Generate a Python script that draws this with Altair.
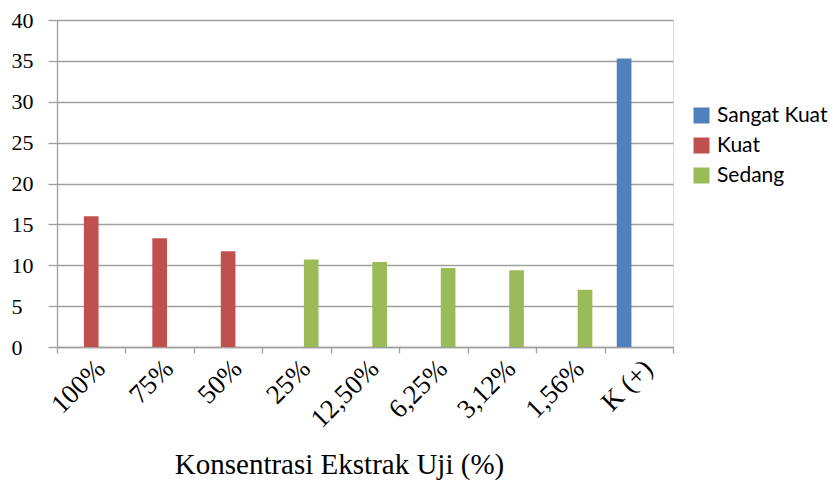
import altair as alt
import pandas as pd

categories = ["100%", "75%", "50%", "25%", "12,50%", "6,25%", "3,12%", "1,56%", "K (+)"]
groups = ["Kuat", "Kuat", "Kuat", "Sedang", "Sedang", "Sedang", "Sedang", "Sedang", "Sangat Kuat"]
values = [16.0, 13.3, 11.7, 10.7, 10.4, 9.65, 9.4, 7.0, 35.3]
legend_order = ["Sangat Kuat", "Kuat", "Sedang"]
colors = ["#4F81BD", "#C0504D", "#9BBB59"]

df = pd.DataFrame({"Konsentrasi": categories, "Kategori": groups, "Nilai": values})

chart = alt.Chart(df).mark_bar().encode(
    x=alt.X("Konsentrasi:N", sort=categories,
            scale=alt.Scale(paddingInner=0, paddingOuter=0),
            axis=alt.Axis(title="Konsentrasi Ekstrak Uji (%)", labelAngle=-45,
                          labelFont="Liberation Serif", labelFontSize=27, labelColor="#000000",
                          labelPadding=2, tickBand="extent", tickSize=6, tickColor="#A0A0A0",
                          tickWidth=1.3, domainColor="#A0A0A0", domainWidth=1.3, grid=False,
                          titleFont="Liberation Serif", titleFontSize=29, titleFontWeight="normal",
                          titleColor="#000000", titleX=282, titleY=126, titleAlign="center",
                          titleBaseline="alphabetic")),
    xOffset=alt.XOffset("Kategori:N", sort=legend_order,
                        scale=alt.Scale(domain=legend_order, paddingInner=0, paddingOuter=0.833)),
    y=alt.Y("Nilai:Q", scale=alt.Scale(domain=[0, 40], nice=False),
            axis=alt.Axis(title=None, values=[0, 5, 10, 15, 20, 25, 30, 35, 40],
                          labelFont="Liberation Serif", labelFontSize=22, labelColor="#000000",
                          labelAlign="left", labelPadding=37, tickSize=9, tickColor="#A0A0A0",
                          tickWidth=1.3, domainColor="#A0A0A0", domainWidth=1.3,
                          gridColor="#A0A0A0", gridWidth=1.3)),
    color=alt.Color("Kategori:N", scale=alt.Scale(domain=legend_order, range=colors),
                    legend=alt.Legend(title=None, orient="none", legendX=634, legendY=85,
                                      symbolType="square", symbolSize=256, symbolStrokeWidth=0,
                                      labelFont="Lato", labelFontSize=21, labelColor="#000000",
                                      labelOffset=5, rowPadding=8, padding=0)),
).properties(
    width=616, height=327,
    autosize=alt.AutoSizeParams(type="none"),
    padding={"left": 57, "top": 20, "right": 160, "bottom": 133},
).configure_view(stroke=None).configure(background="#FFFFFF")

chart.save("out.html", embed_options={"renderer": "svg", "actions": False})
